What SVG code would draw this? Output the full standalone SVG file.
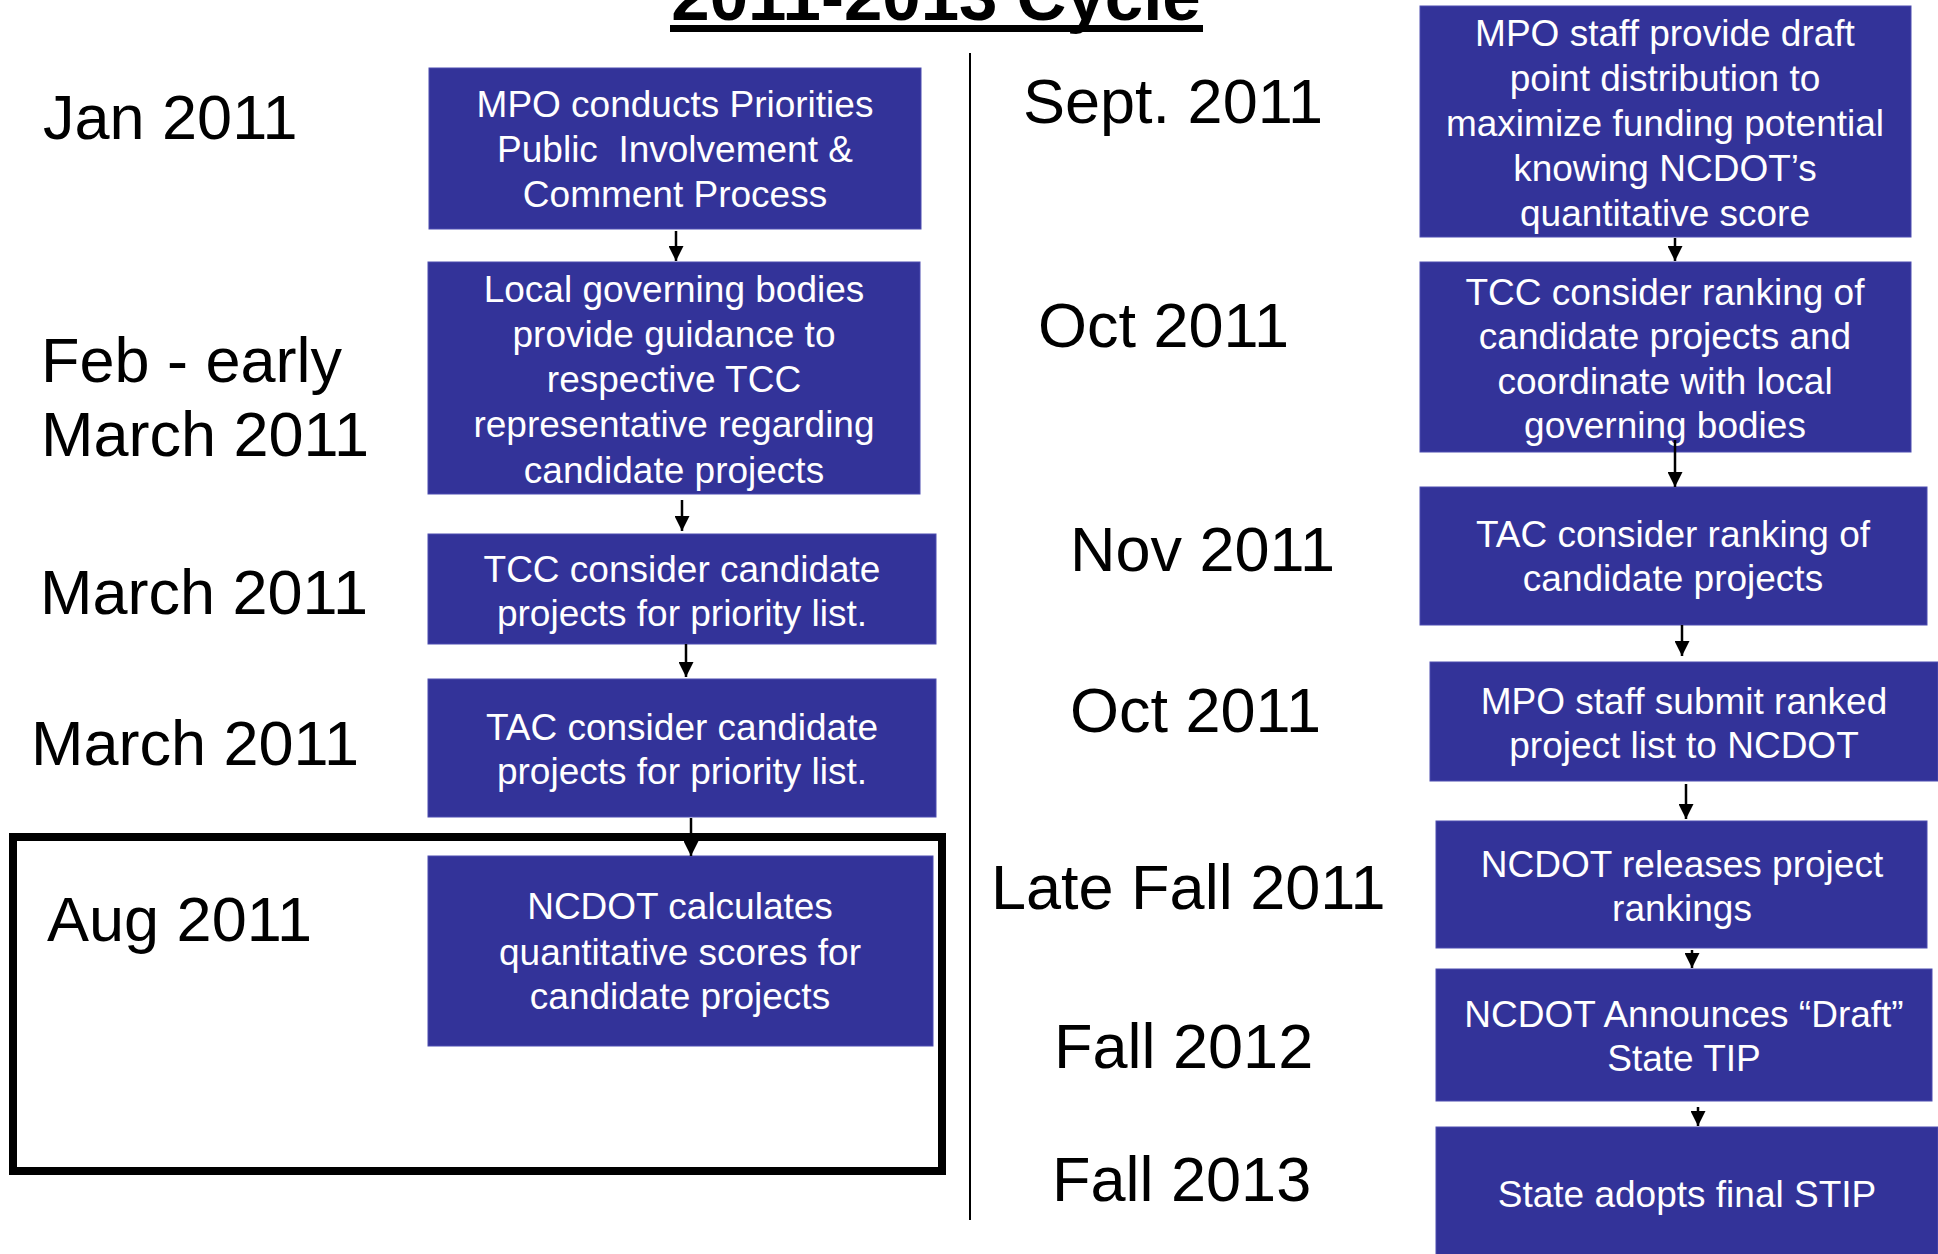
<svg xmlns="http://www.w3.org/2000/svg" width="1938" height="1254" viewBox="0 0 1938 1254">
<style>
.bg{fill:#ffffff}
.box{fill:#333399;stroke:#4d4db0;stroke-width:1}
.bt{font-family:"Liberation Sans",Arial,sans-serif;font-size:37px;fill:#ffffff;text-anchor:middle}
.lbl{font-family:"Liberation Sans",Arial,sans-serif;font-size:63px;fill:#000000}
.title{font-family:"Liberation Sans",Arial,sans-serif;font-size:69px;font-weight:bold;fill:#000000;text-anchor:middle}
.conn line{stroke:#000000;stroke-width:2.5}
</style>
<defs>
<marker id="ah" viewBox="0 0 15 15" refX="15" refY="7.5" markerWidth="15" markerHeight="15" markerUnits="userSpaceOnUse" orient="auto">
<path d="M0,0 L15,7.5 L0,15 Z" fill="#000000"/>
</marker>
</defs>
<rect class="bg" x="0" y="0" width="1938" height="1254"/>

<g id="title">
<text class="title" x="936" y="20">2011-2013 Cycle</text>
<rect x="670" y="25" width="533" height="7" fill="#000000"/>
</g>

<line x1="970" y1="53" x2="970" y2="1220" stroke="#000000" stroke-width="2"/>

<g id="frame">
<rect x="13" y="837" width="929" height="334" fill="none" stroke="#000000" stroke-width="8"/>
</g>

<g id="labels">
<text class="lbl" x="43" y="139">Jan 2011</text>
<text class="lbl" x="41" y="382">Feb - early</text>
<text class="lbl" x="41" y="456">March 2011</text>
<text class="lbl" x="40" y="614">March 2011</text>
<text class="lbl" x="31" y="765">March 2011</text>
<text class="lbl" x="47" y="941">Aug 2011</text>
<text class="lbl" x="1023" y="123">Sept. 2011</text>
<text class="lbl" x="1038" y="347">Oct 2011</text>
<text class="lbl" x="1070" y="571">Nov 2011</text>
<text class="lbl" x="1070" y="732">Oct 2011</text>
<text class="lbl" x="991" y="909">Late Fall 2011</text>
<text class="lbl" x="1054" y="1068">Fall 2012</text>
<text class="lbl" x="1052" y="1201">Fall 2013</text>
</g>

<g id="nodeA">
<rect class="box" x="429" y="68" width="492" height="161"/>
<text class="bt" x="675" y="117">MPO conducts Priorities</text>
<text class="bt" x="675" y="162">Public&#160; Involvement &amp;</text>
<text class="bt" x="675" y="207">Comment Process</text>
</g>
<g id="nodeB">
<rect class="box" x="428" y="262" width="492" height="232"/>
<text class="bt" x="674" y="302">Local governing bodies</text>
<text class="bt" x="674" y="347">provide guidance to</text>
<text class="bt" x="674" y="392">respective TCC</text>
<text class="bt" x="674" y="437">representative regarding</text>
<text class="bt" x="674" y="483">candidate projects</text>
</g>
<g id="nodeC">
<rect class="box" x="428" y="534" width="508" height="110"/>
<text class="bt" x="682" y="582">TCC consider candidate</text>
<text class="bt" x="682" y="626">projects for priority list.</text>
</g>
<g id="nodeD">
<rect class="box" x="428" y="679" width="508" height="138"/>
<text class="bt" x="682" y="740">TAC consider candidate</text>
<text class="bt" x="682" y="784">projects for priority list.</text>
</g>
<g id="nodeE">
<rect class="box" x="428" y="856" width="505" height="190"/>
<text class="bt" x="680" y="919">NCDOT calculates</text>
<text class="bt" x="680" y="965">quantitative scores for</text>
<text class="bt" x="680" y="1009">candidate projects</text>
</g>

<g id="nodeF">
<rect class="box" x="1420" y="6" width="491" height="231"/>
<text class="bt" x="1665" y="46">MPO staff provide draft</text>
<text class="bt" x="1665" y="91">point distribution to</text>
<text class="bt" x="1665" y="136">maximize funding potential</text>
<text class="bt" x="1665" y="181">knowing NCDOT’s</text>
<text class="bt" x="1665" y="226">quantitative score</text>
</g>
<g id="nodeG">
<rect class="box" x="1420" y="262" width="491" height="190"/>
<text class="bt" x="1665" y="305">TCC consider ranking of</text>
<text class="bt" x="1665" y="349">candidate projects and</text>
<text class="bt" x="1665" y="394">coordinate with local</text>
<text class="bt" x="1665" y="438">governing bodies</text>
</g>
<g id="nodeH">
<rect class="box" x="1420" y="487" width="507" height="138"/>
<text class="bt" x="1673" y="547">TAC consider ranking of</text>
<text class="bt" x="1673" y="591">candidate projects</text>
</g>
<g id="nodeI">
<rect class="box" x="1430" y="662" width="508" height="119"/>
<text class="bt" x="1684" y="714">MPO staff submit ranked</text>
<text class="bt" x="1684" y="758">project list to NCDOT</text>
</g>
<g id="nodeJ">
<rect class="box" x="1436" y="821" width="491" height="127"/>
<text class="bt" x="1682" y="877">NCDOT releases project</text>
<text class="bt" x="1682" y="921">rankings</text>
</g>
<g id="nodeK">
<rect class="box" x="1436" y="969" width="496" height="132"/>
<text class="bt" x="1684" y="1027">NCDOT Announces “Draft”</text>
<text class="bt" x="1684" y="1071">State TIP</text>
</g>
<g id="nodeL">
<rect class="box" x="1436" y="1127" width="502" height="130"/>
<text class="bt" x="1687" y="1207">State adopts final STIP</text>
</g>

<g id="connectors" class="conn">
<line x1="676" y1="231" x2="676" y2="261" marker-end="url(#ah)"/>
<line x1="682" y1="500" x2="682" y2="531" marker-end="url(#ah)"/>
<line x1="686" y1="644" x2="686" y2="677" marker-end="url(#ah)"/>
<line x1="691" y1="818" x2="691" y2="856" marker-end="url(#ah)"/>
<line x1="1675" y1="238" x2="1675" y2="261" marker-end="url(#ah)"/>
<line x1="1675" y1="440" x2="1675" y2="487" marker-end="url(#ah)"/>
<line x1="1682" y1="625" x2="1682" y2="656" marker-end="url(#ah)"/>
<line x1="1686" y1="784" x2="1686" y2="819" marker-end="url(#ah)"/>
<line x1="1692" y1="950" x2="1692" y2="968" marker-end="url(#ah)"/>
<line x1="1698" y1="1107" x2="1698" y2="1126" marker-end="url(#ah)"/>
</g>
</svg>
